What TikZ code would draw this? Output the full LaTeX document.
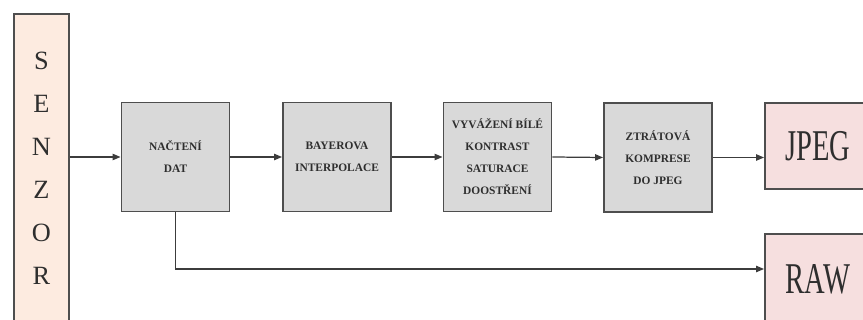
\documentclass[tikz,border=0pt]{standalone}
\usepackage{fontspec}
\setmainfont{Liberation Serif}
\usetikzlibrary{arrows.meta}
\definecolor{senzorfill}{HTML}{FDEBE0}
\definecolor{boxfill}{HTML}{D9D9D9}
\definecolor{vystupfill}{HTML}{F6DFDF}
\definecolor{boxline}{HTML}{4E4E4E}
\definecolor{linegray}{HTML}{3C3C3C}
\definecolor{textgray}{HTML}{2E2E2E}
\begin{document}
\begin{tikzpicture}[x=0.02cm, y=-0.02cm,
	krok/.style={draw=boxline, fill=boxfill, line width=1.1pt, minimum width=2.16cm, minimum height=2.18cm, inner sep=0pt, align=center, text=textgray, font=\fontsize{6.5}{12.5}\selectfont\bfseries},
	vystup/.style={draw=boxline, fill=vystupfill, line width=1.1pt, minimum width=2.12cm, inner sep=0pt, text=textgray, font=\fontsize{25}{30}\selectfont},
	sipka/.style={draw=linegray, line width=0.7pt, -{Triangle[length=4.5pt,width=3.6pt]}}]
	\useasboundingbox (0,0) rectangle (863,320);
	\clip (0,0) rectangle (863,320);
	% senzor
	\node[draw=boxline, fill=senzorfill, line width=1pt, minimum width=1.1cm, minimum height=6.16cm, inner sep=0pt, align=center, text=textgray, font=\fontsize{15}{24.5}\selectfont] (senzor) at (41.5,168) {S\\E\\N\\Z\\O\\R};
	% processing steps
	\node[krok] (nacteni) at (175.5,157) {NAČTENÍ\\DAT};
	\node[krok] (bayer) at (337,157) {BAYEROVA\\INTERPOLACE};
	\node[krok] (vyvazeni) at (497.5,157) {VYVÁŽENÍ BÍLÉ\\KONTRAST\\SATURACE\\DOOSTŘENÍ};
	\node[krok] (komprese) at (658,157.5) {ZTRÁTOVÁ\\KOMPRESE\\DO JPEG};
	% outputs
	\node[vystup, minimum height=1.72cm] (jpeg) at (818,146) {\scalebox{0.65}[1]{JPEG}};
	\node[vystup, minimum height=1.8cm] (raw) at (818,279) {\scalebox{0.65}[1]{RAW}};
	% arrows
	\draw[sipka] (senzor.east |- nacteni.west) -- (nacteni.west);
	\draw[sipka] (nacteni.east) -- (bayer.west);
	\draw[sipka] (bayer.east) -- (vyvazeni.west);
	\draw[sipka] (vyvazeni.east) -- (komprese.west);
	\draw[sipka] (komprese.east) -- (komprese.east -| jpeg.west);
	\coordinate (rawvstup) at ([yshift=0.2cm]raw.west);
	\draw[sipka] (nacteni.south) -- (nacteni.south |- rawvstup) -- (rawvstup);
\end{tikzpicture}
\end{document}
